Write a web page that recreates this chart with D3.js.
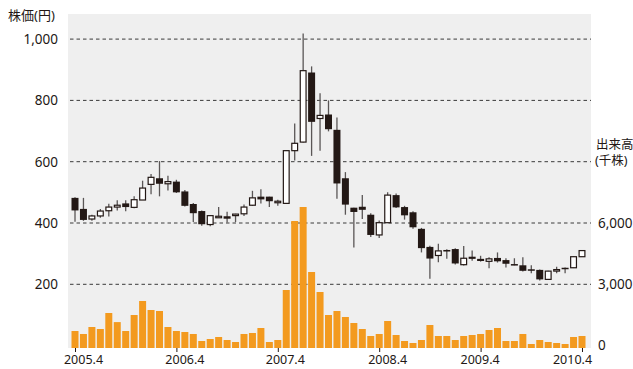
<!DOCTYPE html>
<html>
<head>
<meta charset="utf-8">
<title>株価</title>
<script src="https://cdn.jsdelivr.net/npm/d3@7"></script>
<style>
  body { margin: 0; background: #fff; }
  svg text { font-family: "Noto Sans", "Noto Sans CJK JP", sans-serif; fill: #231815; }
</style>
</head>
<body>
<div id="chart"></div>
<script>
// monthly data, 2005.4 - 2010.4
var months = [
  "2005.4","2005.5","2005.6","2005.7","2005.8","2005.9","2005.10","2005.11","2005.12",
  "2006.1","2006.2","2006.3","2006.4","2006.5","2006.6","2006.7","2006.8","2006.9","2006.10","2006.11","2006.12",
  "2007.1","2007.2","2007.3","2007.4","2007.5","2007.6","2007.7","2007.8","2007.9","2007.10","2007.11","2007.12",
  "2008.1","2008.2","2008.3","2008.4","2008.5","2008.6","2008.7","2008.8","2008.9","2008.10","2008.11","2008.12",
  "2009.1","2009.2","2009.3","2009.4","2009.5","2009.6","2009.7","2009.8","2009.9","2009.10","2009.11","2009.12",
  "2010.1","2010.2","2010.3","2010.4"
];
var open = [482,446,413,423,440,452,464,451,475, 526,546,528,535,503,462,439,395,421,422,427,430,
  458,486,486,470,464,636,664,891,741,754,704,546, 450,453,427,361,401,491,452,435,381,322,294,312,
  315,264,290,283,275,286,279,266,262,249,247,216, 245,254,254,290];
var high = [484,482,427,446,463,474,474,487,538, 560,602,554,541,508,465,441,426,452,437,430,460,
  505,510,486,476,636,725,1018,911,823,800,744,566, 450,491,432,408,500,496,456,438,384,326,332,314,
  318,325,310,293,288,304,285,285,288,262,248,244, 257,255,291,310];
var low = [404,407,407,417,421,441,438,448,475, 494,487,506,498,454,403,391,389,418,402,403,423,
  456,464,452,456,462,604,663,619,636,699,479,427, 320,413,354,351,400,449,411,381,304,218,272,283,
  265,261,277,274,252,271,255,262,242,236,212,215, 236,236,253,290];
var close = [441,410,423,439,452,458,452,476,514, 549,528,535,500,456,432,396,424,422,414,429,452,
  482,477,471,471,636,660,897,730,751,706,529,460, 436,443,361,401,491,451,425,386,318,284,309,307,
  268,285,283,276,283,275,267,264,244,247,216,243, 248,252,290,310];
// 出来高 (千株)
var volume = [714,568,910,812,1595,1150,714,1497,2183, 1742,1693,910,714,665,568,225,323,421,274,176,568,
  617,861,176,274,2721,6098,6783,3602,2623,1497,1693,1400, 1106,812,470,568,1204,519,225,127,274,1008,470,470,
  274,470,519,568,763,861,225,225,568,78,274,176, 127,78,421,470];

var xTicks = ["2005.4","2006.4","2007.4","2008.4","2009.4","2010.4"];
var priceTicks = [200,400,600,800,1000];
var volumeTicks = [0,3000,6000];

var width = 633, height = 369;
var plot = {left: 68, right: 591, top: 14, bottom: 348};
var bw = 7;
// the printed labels are not centred on their ticks
var labelShift = [8, 8, 7, 8, -1, -10];

var svg = d3.select("#chart").append("svg")
  .attr("width", width)
  .attr("height", height);

var x = d3.scalePoint().domain(months).range([75, 582]);
var yP = d3.scaleLinear().domain([0, 1000]).range([345.6, 39.1]);
var yV = d3.scaleLinear().domain([0, 6000]).range([345.6, 223]);

// gray plot area
svg.append("rect")
  .attr("x", plot.left).attr("y", plot.top)
  .attr("width", plot.right - plot.left)
  .attr("height", plot.bottom - plot.top)
  .attr("fill", "#efefef");

// grid
svg.selectAll("line.grid")
  .data(priceTicks)
  .enter().append("line")
  .attr("class", "grid")
  .attr("x1", plot.left + 2).attr("x2", plot.right)
  .attr("y1", function(d) { return yP(d); })
  .attr("y2", function(d) { return yP(d); })
  .attr("stroke", "#3a3a3a")
  .attr("stroke-width", 1)
  .attr("stroke-dasharray", "3.5,3");

// volume bars
svg.selectAll("rect.vol")
  .data(volume)
  .enter().append("rect")
  .attr("class", "vol")
  .attr("x", function(d, i) { return x(months[i]) - bw / 2; })
  .attr("y", function(d) { return yV(d); })
  .attr("width", bw)
  .attr("height", function(d) { return plot.bottom - yV(d); })
  .attr("fill", "#f39a1f");

// candles
var candles = svg.selectAll("g.candle")
  .data(months)
  .enter().append("g")
  .attr("class", "candle");

candles.append("line")
  .attr("x1", function(d) { return x(d); })
  .attr("x2", function(d) { return x(d); })
  .attr("y1", function(d, i) { return yP(high[i]); })
  .attr("y2", function(d, i) { return yP(low[i]); })
  .attr("stroke", "#5a5656")
  .attr("stroke-width", 1.3);

candles.append("rect")
  .attr("x", function(d, i) { return x(d) - bw / 2 + (close[i] >= open[i] ? 0.6 : 0); })
  .attr("y", function(d, i) { return yP(Math.max(open[i], close[i])); })
  .attr("width", function(d, i) { return close[i] >= open[i] ? bw - 1.2 : bw; })
  .attr("height", function(d, i) {
    return Math.max(Math.abs(yP(open[i]) - yP(close[i])), 1.5);
  })
  .attr("fill", function(d, i) { return close[i] >= open[i] ? "#fff" : "#231815"; })
  .attr("stroke", function(d, i) { return close[i] >= open[i] ? "#231815" : "none"; })
  .attr("stroke-width", 1.2);

// x axis
var xAxis = svg.append("g")
  .attr("transform", "translate(0," + plot.bottom + ")")
  .call(d3.axisBottom(x).tickValues(xTicks).tickSize(4).tickPadding(3));
xAxis.select(".domain").remove();
xAxis.selectAll(".tick line").attr("stroke", "#231815");
xAxis.selectAll("text")
  .style("font-size", "12.5px")
  .attr("dx", function(d, i) { return labelShift[i]; });

// left axis (price)
var yAxisL = svg.append("g")
  .attr("transform", "translate(" + plot.left + ",0)")
  .call(d3.axisLeft(yP).tickValues(priceTicks).tickFormat(d3.format(",")).tickSize(0).tickPadding(10));
yAxisL.select(".domain").remove();
yAxisL.selectAll("text").style("font-size", "13.5px");

// right axis (volume)
var yAxisR = svg.append("g")
  .attr("transform", "translate(" + plot.right + ",0)")
  .call(d3.axisRight(yV).tickValues(volumeTicks).tickFormat(d3.format(",")).tickSize(0).tickPadding(7));
yAxisR.select(".domain").remove();
yAxisR.selectAll("text").style("font-size", "13.5px");

// axis titles
svg.append("text")
  .attr("x", 8).attr("y", 20)
  .style("font-size", "13px")
  .text("株価(円)");

svg.append("text")
  .attr("x", 596).attr("y", 149)
  .style("font-size", "12.5px")
  .text("出来高");

svg.append("text")
  .attr("x", 595).attr("y", 165)
  .style("font-size", "12.5px")
  .text("(千株)");
</script>
</body>
</html>
